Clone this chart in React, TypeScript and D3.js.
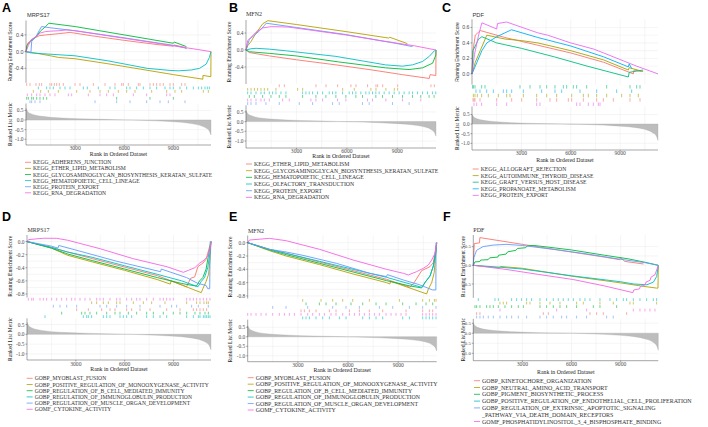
import React from "react";
import * as d3 from "d3";

type Pt = [number, number];

const N_GENES = 11300;
const RANK_TICKS = [3000, 6000, 9000];
const GRID_RANKS = [1500, 3000, 4500, 6000, 7500, 9000, 10500];

const HUE6 = ["#F8766D", "#B79F00", "#00BA38", "#00BFC4", "#619CFF", "#F564E3"];
const HUE5 = ["#F8766D", "#A3A500", "#00BF7D", "#00B0F6", "#E76BF3"];

// ---------- ranked list metric per gene ----------
const RANKED_MRPS17: Pt[] = [[0,0.62],[100,0.45],[300,0.33],[600,0.25],[1000,0.19],[1500,0.14],[2500,0.09],[4000,0.05],[5500,0.02],[6500,0],[7500,-0.03],[8500,-0.07],[9500,-0.12],[10200,-0.2],[10700,-0.3],[11000,-0.42],[11200,-0.58],[11300,-0.78]];
const RANKED_MFN2: Pt[] = [[0,0.58],[100,0.42],[300,0.31],[600,0.23],[1000,0.17],[1500,0.13],[2500,0.08],[4000,0.04],[5500,0.01],[6500,-0.01],[7500,-0.04],[8500,-0.08],[9500,-0.13],[10200,-0.2],[10700,-0.29],[11000,-0.4],[11200,-0.55],[11300,-0.75]];
const RANKED_PDF: Pt[] = [[0,0.5],[100,0.38],[300,0.28],[600,0.21],[1000,0.16],[1500,0.12],[2500,0.07],[4000,0.03],[5500,0.01],[6500,-0.01],[7500,-0.04],[8500,-0.08],[9500,-0.14],[10200,-0.22],[10700,-0.33],[11000,-0.46],[11200,-0.62],[11300,-0.85]];

// ---------- Panel A (MRPS17, KEGG) ----------
const A_SETS = ["KEGG_ADHERENS_JUNCTION","KEGG_ETHER_LIPID_METABOLISM","KEGG_GLYCOSAMINOGLYCAN_BIOSYNTHESIS_KERATAN_SULFATE","KEGG_HEMATOPOIETIC_CELL_LINEAGE","KEGG_PROTEIN_EXPORT","KEGG_RNA_DEGRADATION"];
const A_ES: Pt[][] = [
  [[0,0],[100,0.2],[400,0.3],[800,0.38],[1200,0.4],[2000,0.43],[2700,0.46],[4000,0.38],[6000,0.27],[8000,0.17],[9000,0.13],[9050,0.16],[9700,0.1],[9800,0.06]],
  [[0,0],[800,-0.05],[1500,-0.1],[2000,-0.14],[3000,-0.17],[5000,-0.29],[7000,-0.42],[9000,-0.55],[10800,-0.66],[10810,-0.57],[11290,-0.6],[11300,0]],
  [[0,0],[60,0.15],[300,0.25],[600,0.35],[900,0.5],[1200,0.6],[1400,0.68],[3000,0.6],[4500,0.5],[6000,0.4],[7500,0.3],[9000,0.2],[9050,0.23],[9800,0.12]],
  [[0,0],[300,-0.03],[1000,-0.05],[3000,-0.1],[5000,-0.22],[7400,-0.4],[8800,-0.45],[9300,-0.46],[10100,-0.44],[10600,-0.4],[11000,-0.3],[11200,-0.14],[11300,0]],
  [[0,0],[300,-0.02],[350,0.25],[600,0.35],[800,0.5],[950,0.6],[1500,0.57],[3000,0.5],[6000,0.33],[9000,0.15],[9800,0.08]],
  [[0,0],[150,0.15],[300,0.28],[600,0.36],[900,0.45],[1200,0.48],[1500,0.49],[2000,0.5],[2500,0.52],[3000,0.5],[4500,0.41],[6000,0.32],[7500,0.23],[9000,0.14],[10500,0.05],[11300,0]],
];
const A_HITS: number[][] = [
  [41,244,611,814,957,1466,1568,1731,1873,2036,2280,2993,3298,4113,4825,5436,5843,5945,6251,6861,6963,7574,7778,7981,8185,8388,8796,8999,9508,9712],
  [448,896,1364,1975,3095,3909,4520,5029,5640,6149,6658,7676,8592,9101,9508,10832,11137],
  [41,143,346,448,652,855,1059,1262,5538,7574,8999],
  [753,1262,1466,1670,2077,2382,2688,3502,3746,4418,5131,5436,6149,6352,6760,7167,7574,7981,8490,8796,8999,9406,9813,10220,10526,10730,10933,11076,11198],
  [244,346,550,855,4215,5538,6352,7370,8185,8694,9712],
  [81,346,652,855,1161,1466,1771,2586,2789,3807,4520,4927,5334,6556,7370,8592,8796],
];
const A_ROWS = [0, 2, 4, 1, 5, 3];

// ---------- Panel B (MFN2, KEGG) ----------
const B_SETS = ["KEGG_ETHER_LIPID_METABOLISM","KEGG_GLYCOSAMINOGLYCAN_BIOSYNTHESIS_KERATAN_SULFATE","KEGG_HEMATOPOIETIC_CELL_LINEAGE","KEGG_OLFACTORY_TRANSDUCTION","KEGG_PROTEIN_EXPORT","KEGG_RNA_DEGRADATION"];
const B_ES: Pt[][] = [
  [[0,0],[200,-0.06],[1400,-0.14],[3000,-0.23],[5350,-0.35],[7500,-0.47],[9300,-0.58],[10900,-0.67],[10950,-0.58],[11290,-0.6],[11300,0]],
  [[0,0],[100,0.1],[300,0.2],[600,0.4],[1000,0.62],[1300,0.69],[3000,0.6],[6000,0.43],[8500,0.28],[8550,0.3],[9600,0.15]],
  [[0,0],[200,-0.04],[1400,-0.08],[3000,-0.14],[5500,-0.28],[8300,-0.42],[9700,-0.46],[10500,-0.42],[11100,-0.31],[11290,-0.12],[11300,0]],
  [[0,0],[300,0.03],[600,0.04],[1400,0.02],[2400,-0.02],[5350,-0.15],[8300,-0.35],[9300,-0.38],[9900,-0.35],[10500,-0.27],[10900,-0.15],[11200,-0.02],[11300,0]],
  [[0,0],[200,0.25],[800,0.45],[1100,0.58],[1200,0.63],[3000,0.53],[6000,0.36],[9000,0.15],[9900,0.08]],
  [[0,0],[100,0.22],[300,0.3],[600,0.42],[1000,0.52],[1500,0.55],[2500,0.54],[4000,0.46],[6000,0.35],[8000,0.22],[9000,0.16],[10000,0.1],[11300,0]],
];
const B_HITS: number[][] = [
  [1980,2280,4160,4760,5450,6240,6540,7230,7730,7830,8130,9020,11000,11200],
  [100,300,500,690,890,1090,1290,1780,3070,3370,5750,6440,7430,7730,8320,8820,9020],
  [198,495,990,1485,1980,2376,3366,4158,4752,5346,5940,6534,6930,7722,8118,8712,9306,9900,10395,10890,11187],
  [99,297,594,891,1089,1386,1584,1782,2079,2376,3366,3564,3762,3960,4257,4554,4950,5148,5346,5742,6138,6336,6534,6831,7128,7326,7524,7722,7920,8217,8514,8811,9108,9405,9702,9900,10197,10494,10791,11088,11286],
  [99,297,594,1188,1980,3168,3960,5148,5544,6930,7326,8712,9702],
  [99,297,594,891,1089,1386,2178,2574,3861,4158,4554,5445,5940,7227,7524,8316,9306,10395],
];
const B_ROWS = [0, 1, 3, 2, 5, 4];

// ---------- Panel C (PDF, KEGG) ----------
const C_SETS = ["KEGG_ALLOGRAFT_REJECTION","KEGG_AUTOIMMUNE_THYROID_DISEASE","KEGG_GRAFT_VERSUS_HOST_DISEASE","KEGG_PROPANOATE_METABOLISM","KEGG_PROTEIN_EXPORT"];
const C_ES: Pt[][] = [
  [[0,0],[60,0.3],[200,0.5],[500,0.56],[2000,0.47],[4000,0.37],[6000,0.27],[8000,0.15],[9800,0.0],[9850,0.05],[10300,0.03]],
  [[0,0],[200,0.15],[500,0.3],[800,0.45],[900,0.5],[2000,0.45],[3000,0.43],[4000,0.4],[6000,0.3],[8000,0.18],[9500,0.05],[9550,0.08],[10400,0.03]],
  [[0,0],[60,0.3],[400,0.45],[600,0.48],[1500,0.4],[3000,0.33],[5000,0.22],[7000,0.1],[9500,-0.04],[9550,0.02],[10400,0.05]],
  [[0,0],[300,0.15],[600,0.3],[900,0.4],[1500,0.48],[2000,0.53],[2400,0.57],[4000,0.47],[6000,0.36],[8000,0.22],[9500,0.09],[9550,0.13],[9700,0.07]],
  [[0,0],[150,0.25],[400,0.5],[600,0.66],[1500,0.58],[1550,0.65],[2100,0.67],[4000,0.53],[4600,0.5],[6000,0.4],[7400,0.32],[8000,0.27],[10000,0.1],[11300,0]],
];
const C_HITS: number[][] = [
  [61,122,182,486,1499,2410,3017,3929,4739,5144,5852,6055,6764,7574,7979,8586,9599,10206],
  [81,182,324,587,992,1600,2106,2308,3119,3929,4536,5144,6055,6764,7067,7574,8181,9092,9599,10105],
  [40,81,182,587,790,2916,3524,4131,4536,5042,5549,5751,6156,6358,6966,8181,9599,10004,10206],
  [243,486,891,1296,1904,2106,2410,3119,4232,5042,5447,6561,7574,8789,9700],
  [122,284,587,1499,2106,3929,4131,6358,6561,7067,7371,7675,7776],
];
const C_ROWS = [3, 2, 0, 1, 4];

// ---------- Panel D (MRPS17, GO) ----------
const GO_SETS = ["GOBP_MYOBLAST_FUSION","GOBP_POSITIVE_REGULATION_OF_MONOOXYGENASE_ACTIVITY","GOBP_REGULATION_OF_B_CELL_MEDIATED_IMMUNITY","GOBP_REGULATION_OF_IMMUNOGLOBULIN_PRODUCTION","GOBP_REGULATION_OF_MUSCLE_ORGAN_DEVELOPMENT","GOMF_CYTOKINE_ACTIVITY"];
const D_ES: Pt[][] = [
  [[0,0],[1500,-0.09],[2500,-0.16],[4000,-0.26],[6000,-0.39],[8000,-0.52],[9800,-0.69],[10050,-0.56],[10300,-0.54],[10500,-0.38],[10800,-0.33],[11000,-0.27],[11300,0]],
  [[0,0],[1500,-0.1],[2500,-0.21],[4000,-0.31],[6000,-0.44],[8000,-0.58],[8800,-0.65],[8850,-0.6],[10700,-0.78],[10800,-0.72],[11000,-0.61],[11150,-0.5],[11250,-0.25],[11300,0]],
  [[0,0],[1500,-0.1],[2500,-0.19],[4000,-0.29],[6000,-0.42],[8000,-0.55],[9500,-0.64],[10400,-0.68],[10600,-0.6],[10800,-0.55],[11000,-0.42],[11150,-0.2],[11300,0]],
  [[0,0],[1500,-0.09],[2500,-0.16],[4000,-0.24],[6000,-0.37],[8000,-0.5],[9500,-0.6],[10500,-0.69],[10700,-0.61],[10900,-0.55],[11100,-0.4],[11250,-0.15],[11300,0]],
  [[0,0],[1500,-0.07],[1900,-0.1],[1950,-0.06],[3000,-0.13],[5500,-0.3],[8200,-0.46],[8250,-0.42],[9800,-0.55],[10500,-0.64],[11000,-0.67],[11100,-0.72],[11220,-0.72],[11250,0]],
  [[0,0],[100,0.03],[1000,0.05],[1800,0.05],[2500,0.02],[4500,-0.11],[6500,-0.26],[8600,-0.385],[9600,-0.47],[9900,-0.44],[10300,-0.4],[10600,-0.33],[10900,-0.28],[11100,-0.22],[11250,-0.1],[11300,0]],
];
const D_HITS: number[][] = [
  [3050,3767,4585,5097,5404,6121,6428,6939,7554,8577,9396,10215,10419,10624,10829,11033],
  [3971,4278,4688,4995,5506,5711,6530,7144,7656,8475,9805,10419,10624,10870,11033,11136],
  [2129,3357,3562,3869,4278,4893,5404,5711,6223,6735,7349,7758,8372,8986,9396,9805,10317,10624,10931,11136],
  [1105,3459,3664,3767,3971,4688,4893,5097,5711,5916,6121,6428,7349,7758,8168,8577,9805,10215,10522,10624,10829,10931,11033,11136,11238],
  [1617,2027,2436,3050,4483,4893,5506,6121,6939,8168,8884,9191,10112,10522,11136],
  [82,287,389,798,1003,1208,1515,1822,2129,2436,2743,2948,3255,3562,3869,4278,4483,4688,5097,5506,5711,6121,6428,6735,6939,7349,7758,8168,8372,8577,8782,8986,9805,10010,10215,10419,10624,10829,11033,11238],
];
const D_ROWS = [3, 1, 4, 5, 2, 0];

// ---------- Panel E (MFN2, GO) ----------
const E_ES: Pt[][] = [
  [[0,0],[1300,-0.1],[2300,-0.16],[4300,-0.29],[6300,-0.42],[8300,-0.55],[9700,-0.67],[9950,-0.6],[10200,-0.5],[10400,-0.42],[10900,-0.36],[11100,-0.3],[11300,0]],
  [[0,0],[1300,-0.12],[2300,-0.2],[4300,-0.33],[6300,-0.47],[8300,-0.6],[8500,-0.62],[8550,-0.58],[10700,-0.77],[10800,-0.7],[11000,-0.6],[11150,-0.45],[11300,0]],
  [[0,0],[1300,-0.11],[2300,-0.18],[4300,-0.31],[6300,-0.44],[8300,-0.57],[9700,-0.65],[10400,-0.68],[10600,-0.6],[10900,-0.5],[11100,-0.35],[11250,-0.15],[11300,0]],
  [[0,0],[1300,-0.1],[2300,-0.16],[4300,-0.28],[6300,-0.4],[8300,-0.52],[9700,-0.62],[10400,-0.67],[10650,-0.58],[10900,-0.5],[11100,-0.35],[11250,-0.1],[11300,0]],
  [[0,0],[1300,-0.1],[2300,-0.14],[3300,-0.19],[5300,-0.31],[7300,-0.46],[8300,-0.51],[8350,-0.48],[9300,-0.56],[10250,-0.63],[11050,-0.71],[11250,-0.71],[11260,0]],
  [[0,0],[100,0.04],[1300,0.065],[2300,0.03],[4300,-0.1],[6300,-0.26],[8300,-0.4],[9300,-0.46],[9600,-0.485],[10100,-0.435],[10500,-0.385],[10800,-0.335],[11000,-0.26],[11200,-0.16],[11300,0]],
];
const E_HITS: number[][] = [
  [3189,3388,3687,4086,4883,5281,6079,6677,7274,8072,9467,10463,10862,11061],
  [3288,4385,5082,5680,6278,7274,9068,10463,10862,11161,11260],
  [3488,4285,4683,5281,6178,6876,7673,8271,9267,10065,10663,11061],
  [3288,3488,3687,4086,4484,4883,5481,5879,6876,7274,7673,8072,9267,9666,10463,10663,10862,11061,11260],
  [1495,2292,3587,5082,5879,6677,7873,8670,9666,10463,11260],
  [0,199,498,797,1096,1495,1893,2192,2491,2790,3189,3587,3886,4285,4584,4982,5281,5680,6079,6378,6677,6976,7274,7573,7872,8271,8570,8869,9168,9467,10463,10663,10862,11061,11260],
];
const E_ROWS = [3, 0, 1, 5, 2, 4];

// ---------- Panel F (PDF, GO) ----------
const F_SETS = ["GOBP_KINETOCHORE_ORGANIZATION","GOBP_NEUTRAL_AMINO_ACID_TRANSPORT","GOBP_PIGMENT_BIOSYNTHETIC_PROCESS","GOBP_POSITIVE_REGULATION_OF_ENDOTHELIAL_CELL_PROLIFERATION","GOBP_REGULATION_OF_EXTRINSIC_APOPTOTIC_SIGNALING\n_PATHWAY_VIA_DEATH_DOMAIN_RECEPTORS","GOMF_PHOSPHATIDYLINOSITOL_3_4_BISPHOSPHATE_BINDING"];
const F_ES: Pt[][] = [
  [[0,0],[30,0.3],[60,0.58],[380,0.6],[400,0.74],[2000,0.63],[4000,0.49],[6000,0.355],[8000,0.22],[8950,0.15],[9000,0.21],[9250,0.105],[10400,0.035]],
  [[0,0],[1600,-0.07],[1650,-0.03],[3000,-0.08],[6000,-0.29],[9000,-0.47],[10200,-0.55],[11200,-0.61],[11280,-0.61],[11300,0]],
  [[0,0],[100,0.09],[400,0.1],[450,0.14],[900,0.15],[1000,0.2],[1500,0.22],[1550,0.27],[2000,0.3],[2100,0.36],[2600,0.4],[2700,0.45],[3200,0.47],[3300,0.52],[3700,0.53],[4500,0.49],[6000,0.41],[8000,0.27],[9500,0.17],[10500,0.08],[11300,0]],
  [[0,0],[1600,-0.05],[3000,-0.1],[6000,-0.28],[9000,-0.44],[9800,-0.5],[10600,-0.52],[11000,-0.45],[11200,-0.3],[11300,0]],
  [[0,0],[30,0.2],[200,0.4],[600,0.5],[1200,0.54],[2000,0.56],[3000,0.53],[5000,0.42],[7000,0.3],[9000,0.16],[10500,0.07],[11300,0]],
  [[0,0],[2000,-0.11],[4000,-0.245],[6100,-0.38],[8000,-0.55],[9750,-0.73],[9800,-0.66],[10150,-0.63],[10200,-0.57],[10500,-0.52],[10550,-0.45],[10800,-0.4],[10850,-0.32],[11100,-0.25],[11300,0]],
];
const F_HITS: number[][] = [
  [204,407,4275,4581,7126,7533,7941,9366],
  [1629,1832,2036,3258,3461,4072,4683,5294,6311,6719,7737,8551,9569,9773,11198],
  [102,204,407,814,1018,1222,1527,1934,2341,2748,3054,4072,4479,4886,5294,5701,6311,7330,7737,8755],
  [305,1323,1527,2341,2647,2952,3258,3563,4072,4479,4886,5192,5497,5802,6108,6515,6820,7126,7737,8347,8755,9162,9366,9773,10180,10587,10994,11198],
  [204,407,611,916,1222,1629,2036,2341,2748,3258,4072,4479,4886,5396,5701,6311,6922,8144,8551],
  [1629,5090,6922,9773,10180,10485,10791,11096],
];
const F_ROWS = [4, 1, 2, 0, 5, 3];

// ---------- drawing ----------
const SANS = "'Liberation Sans', Arial, sans-serif";
const SERIF = "'Liberation Serif', 'Times New Roman', serif";

type PanelCfg = {
  letter: string; letterX: number; letterY: number;
  title: string; titleX: number; titleY: number; topFont: string; topSize: number; tickSize: number;
  x0: number; x1: number; top: number; bottom: number;
  esDomain: [number, number]; esTicks: number[];
  rankDomain: [number, number]; rankTicks: number[];
  yLabelX: number; ranked: Pt[];
  sets: string[]; colors: string[]; es: Pt[][]; hits: number[][]; rows: number[];
  xTickY: number; xTitleY: number;
  legendY: number; legendStep: number; legendX: number; legendSize: number;
};

const fmt = (t: number) => d3.format(".1f")(t).replace("\u2212", "-");

function Panel({ c }: { c: PanelCfg }) {
  const total = c.bottom - c.top;
  const esBottom = c.top + total * 0.5;
  const hitsBottom = esBottom + total / 6;
  const x = d3.scaleLinear().domain([0, N_GENES]).range([c.x0, c.x1]);
  const yEs = d3.scaleLinear().domain(c.esDomain).range([esBottom, c.top]);
  const yRank = d3.scaleLinear().domain(c.rankDomain).range([c.bottom, hitsBottom]);
  const line = d3.line<Pt>().x((d) => x(d[0])).y((d) => yEs(d[1]));
  const area = d3.area<Pt>().x((d) => x(d[0])).y0(yRank(0)).y1((d) => yRank(d[1])).curve(d3.curveMonotoneX);
  const n = c.sets.length;
  const rowH = (hitsBottom - esBottom) / n;
  const grid = "#ebebeb";
  const axis = "#4d4d4d";
  const tickTxt = "#4d4d4d";
  const esMinor: number[] = [];
  for (let i = 0; i < c.esTicks.length - 1; i++) esMinor.push((c.esTicks[i] + c.esTicks[i + 1]) / 2);
  let legendLine = 0;
  return (
    <g>
      <text x={c.letterX} y={c.letterY} fontFamily={SANS} fontWeight="bold" fontSize={12.5} fill="#000">{c.letter}</text>
      <text x={c.titleX} y={c.titleY} fontFamily={c.topFont} fontSize={c.topSize + 0.4} fill="#333">{c.title}</text>
      {GRID_RANKS.map((r) => (
        <line key={"gv" + r} x1={x(r)} x2={x(r)} y1={c.top} y2={esBottom} stroke={grid} strokeWidth={0.5} />
      ))}
      {GRID_RANKS.map((r) => (
        <line key={"gr" + r} x1={x(r)} x2={x(r)} y1={hitsBottom} y2={c.bottom} stroke={grid} strokeWidth={0.5} />
      ))}
      {[...c.esTicks, ...esMinor].map((t) => (
        <line key={"gh" + t} x1={c.x0} x2={c.x1} y1={yEs(t)} y2={yEs(t)} stroke={grid} strokeWidth={0.5} />
      ))}
      {c.rankTicks.map((t) => (
        <line key={"grh" + t} x1={c.x0} x2={c.x1} y1={yRank(t)} y2={yRank(t)} stroke={grid} strokeWidth={0.5} />
      ))}
      {c.es.map((s, i) => (
        <path key={"es" + i} d={line(s) || ""} fill="none" stroke={c.colors[i]} strokeWidth={0.9} strokeLinejoin="round" />
      ))}
      {c.hits.map((hs, i) =>
        hs.map((h, j) => {
          const yc = esBottom + rowH * (c.rows[i] + 0.5);
          return <line key={"h" + i + "_" + j} x1={x(h)} x2={x(h)} y1={yc - rowH * 0.4} y2={yc + rowH * 0.4} stroke={c.colors[i]} strokeWidth={0.6} />;
        })
      )}
      <path d={area(c.ranked) || ""} fill="#bdbdbd" stroke="#a8a8a8" strokeWidth={0.3} />
      <line x1={c.x0} x2={c.x0} y1={c.top} y2={esBottom} stroke={axis} strokeWidth={0.5} />
      <line x1={c.x0} x2={c.x0} y1={hitsBottom} y2={c.bottom} stroke={axis} strokeWidth={0.5} />
      <line x1={c.x0} x2={c.x1} y1={c.bottom} y2={c.bottom} stroke={axis} strokeWidth={0.5} />
      {c.esTicks.map((t) => (
        <g key={"et" + t}>
          <line x1={c.x0 - 1.5} x2={c.x0} y1={yEs(t)} y2={yEs(t)} stroke={axis} strokeWidth={0.5} />
          <text x={c.x0 - 2.5} y={yEs(t)} dominantBaseline="central" textAnchor="end" fontFamily={c.topFont} fontSize={c.tickSize} fill={tickTxt}>{fmt(t)}</text>
        </g>
      ))}
      {c.rankTicks.map((t) => (
        <g key={"rt" + t}>
          <line x1={c.x0 - 1.5} x2={c.x0} y1={yRank(t)} y2={yRank(t)} stroke={axis} strokeWidth={0.5} />
          <text x={c.x0 - 2.5} y={yRank(t)} dominantBaseline="central" textAnchor="end" fontFamily={SERIF} fontSize={c.tickSize} fill={tickTxt}>{fmt(t)}</text>
        </g>
      ))}
      {RANK_TICKS.map((r) => (
        <g key={"xt" + r}>
          <line x1={x(r)} x2={x(r)} y1={c.bottom} y2={c.bottom + 1.5} stroke={axis} strokeWidth={0.5} />
          <text x={x(r)} y={c.xTickY} dominantBaseline="central" textAnchor="middle" fontFamily={SERIF} fontSize={5.6} fill={tickTxt}>{r}</text>
        </g>
      ))}
      <text x={(c.x0 + c.x1) / 2} y={c.xTitleY} dominantBaseline="central" textAnchor="middle" fontFamily={SERIF} fontSize={5.8} fill="#222">Rank in Ordered Dataset</text>
      <text transform={`translate(${c.yLabelX},${(c.top + esBottom) / 2}) rotate(-90)`} dominantBaseline="central" textAnchor="middle" fontFamily={c.topFont} fontSize={c.topFont === SANS ? 5 : 5.6} fill="#222">Running Enrichment Score</text>
      <text transform={`translate(${c.yLabelX},${(hitsBottom + c.bottom) / 2}) rotate(-90)`} dominantBaseline="central" textAnchor="middle" fontFamily={SERIF} fontSize={5.6} fill="#222">Ranked List Metric</text>
      {c.sets.map((name, i) => {
        const parts = name.split("\n");
        const y0 = c.legendY + legendLine * c.legendStep;
        legendLine += parts.length;
        return (
          <g key={"lg" + i}>
            <line x1={c.legendX} x2={c.legendX + 6} y1={y0} y2={y0} stroke={c.colors[i]} strokeWidth={0.8} />
            {parts.map((p, k) => (
              <text key={k} x={c.legendX + 8} y={y0 + k * c.legendStep} dominantBaseline="central" fontFamily={SERIF} fontSize={c.legendSize} fill="#333">{p}</text>
            ))}
          </g>
        );
      })}
    </g>
  );
}

const PANELS: PanelCfg[] = [
  { letter: "A", letterX: 2, letterY: 11.7, title: "MRPS17", titleX: 27, titleY: 17.3, topFont: SANS, topSize: 5.3, tickSize: 5.4,
    x0: 26, x1: 211, top: 20.5, bottom: 145, esDomain: [-0.745, 0.745], esTicks: [-0.4, 0, 0.4],
    rankDomain: [-1.3, 0.86], rankTicks: [-1, -0.5, 0, 0.5], yLabelX: 10, ranked: RANKED_MRPS17,
    sets: A_SETS, colors: HUE6, es: A_ES, hits: A_HITS, rows: A_ROWS,
    xTickY: 148, xTitleY: 154.3, legendY: 162.3, legendStep: 6.1, legendX: 25, legendSize: 5.6 },
  { letter: "B", letterX: 229, letterY: 11.7, title: "MFN2", titleX: 246, titleY: 16.3, topFont: SERIF, topSize: 5.6, tickSize: 5.4,
    x0: 246, x1: 436, top: 20, bottom: 148, esDomain: [-0.8, 0.706], esTicks: [-0.4, 0, 0.4],
    rankDomain: [-1.36, 0.84], rankTicks: [-1, -0.5, 0, 0.5], yLabelX: 229, ranked: RANKED_MFN2,
    sets: B_SETS, colors: HUE6, es: B_ES, hits: B_HITS, rows: B_ROWS,
    xTickY: 150.7, xTitleY: 155.5, legendY: 164, legendStep: 6.67, legendX: 246, legendSize: 5.75 },
  { letter: "C", letterX: 442, letterY: 11.7, title: "PDF", titleX: 472.5, titleY: 16.5, topFont: SANS, topSize: 5.3, tickSize: 5.2,
    x0: 472, x1: 658, top: 19.3, bottom: 150, esDomain: [-0.139, 0.705], esTicks: [0, 0.2, 0.4, 0.6],
    rankDomain: [-1.35, 0.92], rankTicks: [-1, -0.5, 0, 0.5], yLabelX: 456.5, ranked: RANKED_PDF,
    sets: C_SETS, colors: HUE5, es: C_ES, hits: C_HITS, rows: C_ROWS,
    xTickY: 153.3, xTitleY: 160, legendY: 169, legendStep: 6.6, legendX: 472.7, legendSize: 5.7 },
  { letter: "D", letterX: 2, letterY: 220.5, title: "MRPS17", titleX: 27.5, titleY: 232, topFont: SERIF, topSize: 5.6, tickSize: 5.4,
    x0: 27, x1: 211, top: 235, bottom: 360, esDomain: [-0.854, 0.1], esTicks: [-0.8, -0.6, -0.4, -0.2, 0],
    rankDomain: [-1.31, 0.82], rankTicks: [-1, -0.5, 0, 0.5], yLabelX: 10, ranked: RANKED_MRPS17,
    sets: GO_SETS, colors: HUE6, es: D_ES, hits: D_HITS, rows: D_ROWS,
    xTickY: 364, xTitleY: 369, legendY: 378.3, legendStep: 6.2, legendX: 26.7, legendSize: 5.6 },
  { letter: "E", letterX: 229, letterY: 220.5, title: "MFN2", titleX: 248, titleY: 232.5, topFont: SERIF, topSize: 5.6, tickSize: 5.4,
    x0: 247.7, x1: 436.7, top: 235.5, bottom: 361.7, esDomain: [-0.84, 0.108], esTicks: [-0.8, -0.6, -0.4, -0.2, 0],
    rankDomain: [-1.31, 0.9], rankTicks: [-1, -0.5, 0, 0.5], yLabelX: 230, ranked: RANKED_MFN2,
    sets: GO_SETS, colors: HUE6, es: E_ES, hits: E_HITS, rows: E_ROWS,
    xTickY: 365, xTitleY: 370.3, legendY: 377.7, legendStep: 6.46, legendX: 247.7, legendSize: 5.85 },
  { letter: "F", letterX: 443, letterY: 220.5, title: "PDF", titleX: 473.3, titleY: 232, topFont: SERIF, topSize: 5.6, tickSize: 4.8,
    x0: 473.3, x1: 658.3, top: 235, bottom: 360.7, esDomain: [-0.87, 0.81], esTicks: [-0.5, 0, 0.5],
    rankDomain: [-1.37, 0.72], rankTicks: [-1, -0.5, 0, 0.5], yLabelX: 463, ranked: RANKED_PDF,
    sets: F_SETS, colors: HUE6, es: F_ES, hits: F_HITS, rows: F_ROWS,
    xTickY: 364.3, xTitleY: 371.7, legendY: 380.7, legendStep: 6.8, legendX: 474, legendSize: 6 },
];

export default function App() {
  return (
    <svg width={708} height={427} viewBox="0 0 708 427" style={{ position: "absolute", left: 0, top: 0, background: "#fff" }}>
      <rect x={0} y={0} width={708} height={427} fill="#fff" />
      {PANELS.map((p) => (
        <Panel key={p.letter} c={p} />
      ))}
    </svg>
  );
}
